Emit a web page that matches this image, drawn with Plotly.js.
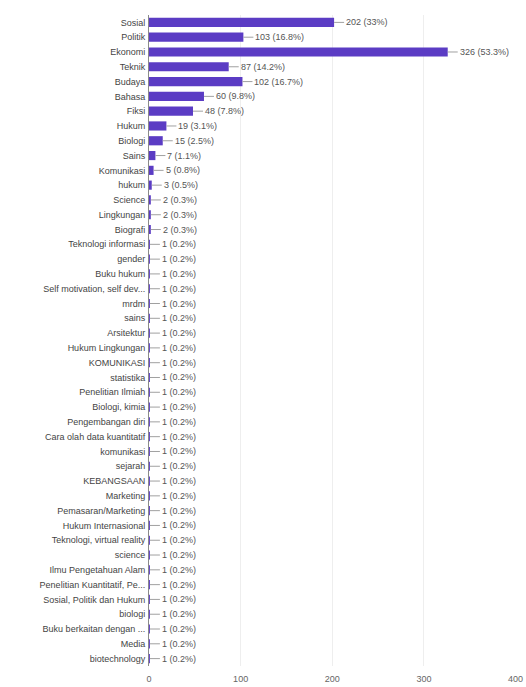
<!DOCTYPE html>
<html>
<head>
<meta charset="utf-8">
<script src="https://cdn.plot.ly/plotly-3.0.1.min.js"></script>
<style>html,body{margin:0;padding:0;background:#fff;}#chart{width:526px;height:687px;}</style>
</head>
<body>
<div id="chart"></div>
<script>
var categories = ["Sosial","Politik","Ekonomi","Teknik","Budaya","Bahasa","Fiksi","Hukum","Biologi","Sains","Komunikasi","hukum","Science","Lingkungan","Biografi","Teknologi informasi","gender","Buku hukum","Self motivation, self dev...","mrdm","sains","Arsitektur","Hukum Lingkungan","KOMUNIKASI","statistika","Penelitian Ilmiah","Biologi, kimia","Pengembangan diri","Cara olah data kuantitatif","komunikasi","sejarah","KEBANGSAAN","Marketing","Pemasaran/Marketing","Hukum Internasional","Teknologi, virtual reality","science","Ilmu Pengetahuan Alam","Penelitian Kuantitatif, Pe...","Sosial, Politik dan Hukum","biologi","Buku berkaitan dengan ...","Media","biotechnology"];
var counts = [202,103,326,87,102,60,48,19,15,7,5,3,2,2,2,1,1,1,1,1,1,1,1,1,1,1,1,1,1,1,1,1,1,1,1,1,1,1,1,1,1,1,1,1];
var percents = ["33%","16.8%","53.3%","14.2%","16.7%","9.8%","7.8%","3.1%","2.5%","1.1%","0.8%","0.5%","0.3%","0.3%","0.3%","0.2%","0.2%","0.2%","0.2%","0.2%","0.2%","0.2%","0.2%","0.2%","0.2%","0.2%","0.2%","0.2%","0.2%","0.2%","0.2%","0.2%","0.2%","0.2%","0.2%","0.2%","0.2%","0.2%","0.2%","0.2%","0.2%","0.2%","0.2%","0.2%"];
var xTicks = [0,100,200,300,400];

var annotations = categories.map(function(c,i){
  return {x: counts[i], y: c, xref:'x', yref:'y', text: counts[i] + ' (' + percents[i] + ')',
    showarrow:true, arrowhead:0, arrowwidth:1, arrowcolor:'#a0a0a0', ax:10, ay:0, standoff:0,
    xanchor:'left', font:{family:'Liberation Sans, Arial, sans-serif', size:9, color:'#555'}};
});

Plotly.newPlot('chart', [{
  type:'bar', orientation:'h', y:categories, x:counts,
  marker:{color:'#5b3cc4'}, hoverinfo:'none'
}], {
  width:526, height:687,
  margin:{l:149, r:10, t:15, b:21},
  paper_bgcolor:'#fff', plot_bgcolor:'#fff',
  bargap:0.38,
  showlegend:false,
  font:{family:'Liberation Sans, Arial, sans-serif', size:9, color:'#333'},
  xaxis:{range:[0,400.5], tickvals:xTicks, showgrid:true, gridcolor:'#eeeeee', zeroline:false,
    showline:false, tickfont:{size:9, color:'#666'}, ticklabelstandoff:6, ticklabeloverflow:'allow',
    automargin:false, fixedrange:true},
  yaxis:{type:'category', autorange:'reversed', showgrid:false, showline:true, linecolor:'#8a8a8a',
    linewidth:1, ticks:'', tickfont:{size:9, color:'#444'}, ticklabelstandoff:1, automargin:false, fixedrange:true},
  annotations: annotations
}, {displayModeBar:false, staticPlot:true});
</script>
</body>
</html>
